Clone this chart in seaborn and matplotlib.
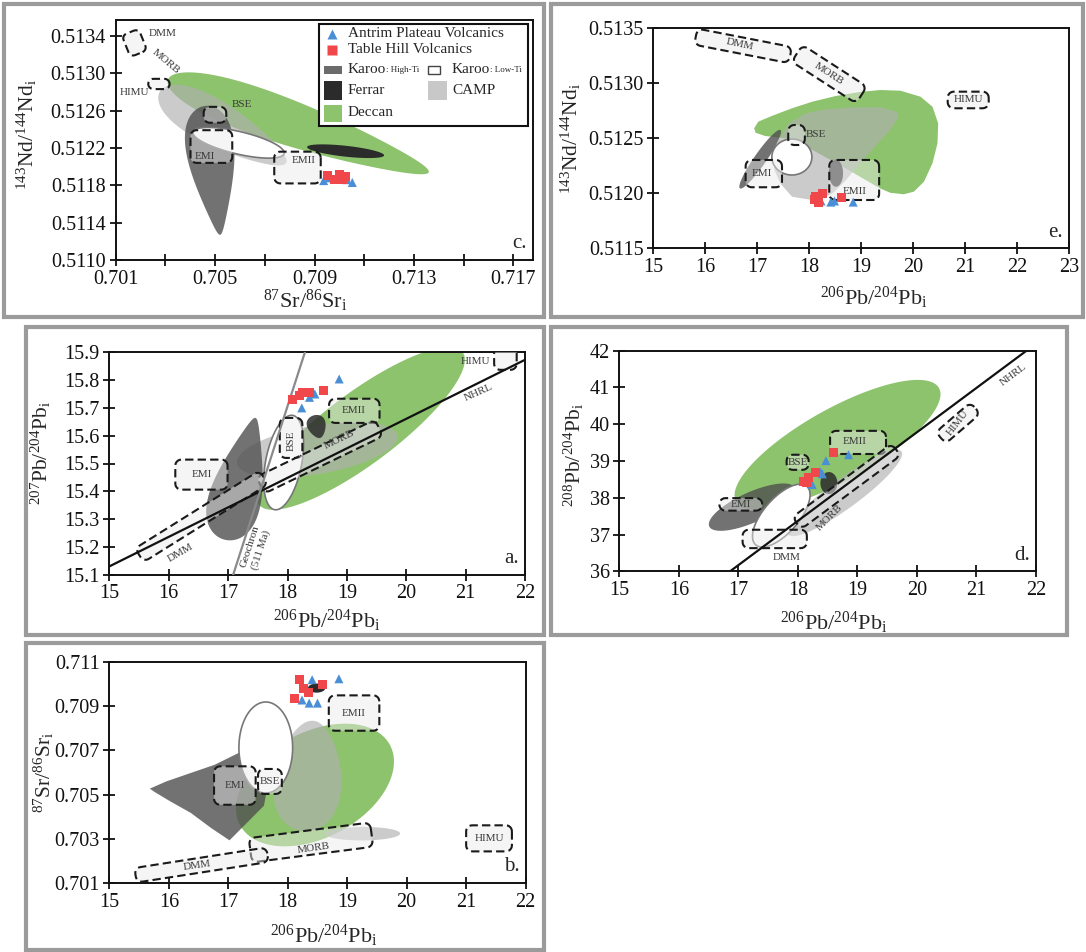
import numpy as np
import pandas as pd
import seaborn as sns
import matplotlib.pyplot as plt
from matplotlib.patches import Polygon, Rectangle

sns.set_style('ticks')
plt.rcParams['font.family'] = ['Liberation Serif', 'DejaVu Serif']
plt.rcParams['mathtext.fontset'] = 'custom'
plt.rcParams['mathtext.rm'] = 'Liberation Serif'
plt.rcParams['mathtext.it'] = 'Liberation Serif:italic'
plt.rcParams['mathtext.bf'] = 'Liberation Serif:bold'

APV = 'Antrim Plateau Volcanics'
THV = 'Table Hill Volcanics'

# ---------------- sample data ----------------
# c. 87Sr/86Sr vs 143Nd/144Nd
c_apv_sr = [0.70937, 0.70960, 0.71030, 0.71052]
c_apv_nd = [0.51185, 0.51188, 0.51186, 0.51183]
c_thv_sr = [0.70951, 0.70980, 0.70999, 0.71014, 0.71023]
c_thv_nd = [0.51190, 0.51186, 0.51192, 0.51186, 0.51189]
# e. 206Pb/204Pb vs 143Nd/144Nd
e_apv_pb = [18.23, 18.42, 18.49, 18.85]
e_apv_nd = [0.51193, 0.51192, 0.51193, 0.51192]
e_thv_pb = [18.10, 18.13, 18.19, 18.26, 18.62]
e_thv_nd = [0.51194, 0.51197, 0.51192, 0.51200, 0.51196]
# a. 206Pb/204Pb vs 207Pb/204Pb
a_apv_pb = [18.24, 18.37, 18.46, 18.87]
a_apv_207 = [15.700, 15.738, 15.750, 15.804]
a_thv_pb = [18.09, 18.21, 18.26, 18.37, 18.60]
a_thv_207 = [15.730, 15.745, 15.757, 15.754, 15.762]
# d. 206Pb/204Pb vs 208Pb/204Pb
d_apv_pb = [18.24, 18.38, 18.41, 18.47, 18.85]
d_apv_208 = [38.36, 38.70, 38.65, 39.01, 39.17]
d_thv_pb = [18.10, 18.15, 18.18, 18.29, 18.60]
d_thv_208 = [38.45, 38.41, 38.56, 38.70, 39.24]
# b. 206Pb/204Pb vs 87Sr/86Sr
b_apv_pb = [18.24, 18.36, 18.41, 18.50, 18.86]
b_apv_sr = [0.70928, 0.70914, 0.71020, 0.70914, 0.71024]
b_thv_pb = [18.11, 18.20, 18.27, 18.35, 18.59]
b_thv_sr = [0.70933, 0.71020, 0.70979, 0.70960, 0.70997]

# ---------------- literature fields: (end 1, end 2, width/length, taper) ----------------
c_deccan = [(0.7031, 0.51293), (0.7136, 0.51194), 0.16, 0.35]
c_camp = [(0.70277, 0.51280), (0.70786, 0.51204), 0.30, 0.3]
c_karoo_hi = [(0.7046, 0.51265), (0.7052, 0.51127), 0.33, 0.6]
c_karoo_lo = [(0.70411, 0.51237), (0.70778, 0.51214), 0.24, 0.0]
c_ferrar = [(0.7087, 0.51221), (0.7118, 0.51212), 0.14, 0.0]

e_deccan_pb = [16.944, 17.023, 17.283, 17.673, 18.065, 18.521, 18.977, 19.367, 19.758, 20.148,
               20.377, 20.487, 20.474, 20.377, 20.213, 20.019, 19.823, 19.563, 19.367, 18.650,
               18.065, 17.544, 17.154, 16.971]
e_deccan_nd = [0.512591, 0.512651, 0.512703, 0.512773, 0.512833, 0.512885, 0.512921, 0.512939,
               0.512933, 0.512878, 0.512787, 0.512636, 0.512455, 0.512273, 0.512105, 0.512015,
               0.511991, 0.512005, 0.512045, 0.512242, 0.512394, 0.512500, 0.512521, 0.512551]
e_camp_pb = [17.316, 17.413, 17.609, 17.935, 18.325, 18.846, 19.367, 19.692, 19.725, 19.563,
             19.269, 18.977, 18.715, 18.456, 18.131, 17.673, 17.446, 17.335]
e_camp_nd = [0.512333, 0.512485, 0.512636, 0.512727, 0.512764, 0.512782, 0.512782, 0.512742,
             0.512696, 0.512575, 0.512424, 0.512273, 0.512121, 0.512000, 0.511933, 0.511969,
             0.512091, 0.512212]
e_karoo_hi = [(16.67, 0.512045), (17.45, 0.512575), 0.17, 0.0]
e_karoo_lo = [(17.285, 0.51233), (18.055, 0.51233), 0.90, 0.0]
e_ferrar = [(18.52, 0.512305), (18.52, 0.51206), 0.52, 0.0]

a_deccan = [(17.52, 15.352), (20.95, 15.90), 0.28, 0.0]
a_camp = [(17.15, 15.50), (19.85, 15.60), 0.30, 0.0]
a_karoo_hi = [(16.94, 15.226), (17.46, 15.664), 0.37, 0.6]
a_karoo_lo = [(17.78, 15.334), (18.09, 15.673), 0.375, 0.0]
a_ferrar = [(18.44, 15.673), (18.55, 15.592), 0.77, 0.3]

d_deccan = [(16.96, 37.90), (20.37, 40.985), 0.31, 0.0]
d_camp = [(17.84, 37.00), (19.74, 39.26), 0.21, 0.0]
d_karoo_hi = [(16.51, 37.22), (17.95, 38.27), 0.32, 0.0]
d_karoo_lo = [(17.29, 36.72), (18.15, 38.31), 0.45, 0.0]
d_ferrar = [(18.52, 38.70), (18.52, 38.10), 0.77, 0.0]

b_deccan = [(17.196, 0.703624), (19.719, 0.707244), 0.62, 0.0]
b_camp = [(18.43, 0.70834), (18.26, 0.70334), 0.60, -0.2]
b_camp2 = [(18.63, 0.70322), (19.89, 0.70324), 0.18, 0.0]
b_karoo_lo = [(17.63, 0.70919), (17.63, 0.70507), 0.59, 0.0]
b_ferrar = [(18.34, 0.70982), (18.63, 0.70982), 0.53, 0.0]
b_karoo_hi_pb = [15.68, 15.96, 16.37, 16.77, 17.17, 17.51, 17.70, 17.60, 17.02, 16.71, 16.37, 16.02, 15.76]
b_karoo_hi_sr = [0.70527, 0.70560, 0.70598, 0.70635, 0.70688, 0.70719, 0.70600, 0.70450,
                 0.70293, 0.70349, 0.70417, 0.70470, 0.70512]

# ---------------- mantle reservoirs ----------------
# axis-aligned boxes (x0, x1, y0, y1)
c_himu = (0.70231, 0.70317, 0.51283, 0.51294)
c_bse = (0.70454, 0.70545, 0.51247, 0.51264)
c_emi = (0.70401, 0.70569, 0.51204, 0.51239)
c_emii = (0.70738, 0.70925, 0.51182, 0.51216)
e_himu = (20.67, 21.46, 0.512773, 0.512924)
e_bse = (17.60, 17.92, 0.512439, 0.512621)
e_emi = (16.78, 17.48, 0.512055, 0.512303)
e_emii = (18.39, 19.35, 0.511939, 0.512303)
a_emi = (16.11, 16.99, 15.406, 15.514)
a_emii = (18.70, 19.55, 15.646, 15.733)
a_bse = (17.87, 18.25, 15.520, 15.664)
a_himu = (21.48, 21.86, 15.837, 15.930)
d_emii = (18.54, 19.48, 39.19, 39.82)
d_bse = (17.81, 18.18, 38.76, 39.17)
d_emi = (16.68, 17.40, 37.65, 37.99)
d_dmm = (17.07, 18.15, 36.63, 37.13)
b_emii = (18.69, 19.54, 0.70789, 0.70949)
b_emi = (16.76, 17.46, 0.70454, 0.70628)
b_bse = (17.50, 17.90, 0.70503, 0.70616)
b_himu = (21.00, 21.77, 0.70243, 0.70361)
# tilted boxes (end 1, end 2, thickness/length)
c_dmm = [(0.70158, 0.51344), (0.70193, 0.51321), 0.78]
e_dmm = [(15.82, 0.513424), (17.64, 0.513257), 0.17]
e_morb = [(17.77, 0.513273), (19.01, 0.512894), 0.26]
a_morb = [(17.545, 15.422), (19.54, 15.628), 0.14]
a_dmm = [(15.505, 15.170), (17.60, 15.450), 0.11]
d_morb = [(17.98, 37.31), (19.65, 39.31), 0.12]
d_himu = [(20.40, 39.63), (20.98, 40.44), 0.33]
b_morb = [(17.37, 0.70248), (19.41, 0.70319), 0.20]
b_dmm = [(15.44, 0.70135), (17.66, 0.70228), 0.11]

# reference lines
a_nhrl_x = [15.0, 22.0]
a_nhrl_y = [15.130, 15.873]
a_geo_x = [17.085, 18.293]
a_geo_y = [15.10, 15.90]
d_nhrl_x = [16.86, 21.84]
d_nhrl_y = [36.0, 42.0]

GREEN = '#8dc36d'
HI = '#4f4f4f'
FER = '#2b2b2b'
CAMPC = '#b0b0b0'
BLUE = '#4a8fd6'
RED = '#f0474a'

W, H = 1086, 952
fig = plt.figure(figsize=(W / 100, H / 100), dpi=100)


def add_axes(l, r, t, b, xlim, ylim):
    ax = fig.add_axes([l / W, 1 - b / H, (r - l) / W, (b - t) / H])
    ax.set_xlim(xlim)
    ax.set_ylim(ylim)
    ax.set_autoscale_on(False)
    return ax


def frame(ax, p0, p1):
    a, b = ax.transData.transform([p0, p1])
    d = b - a
    L = np.hypot(*d)
    u = d / L
    return a, u, np.array([-u[1], u[0]]), L


def field(ax, shape, color, z, alpha=1.0, ec='none', lw=0):
    p0, p1, ratio, skew = shape
    a, u, n, L = frame(ax, p0, p1)
    t = np.linspace(0, 2 * np.pi, 160)
    s = (1 - np.cos(t)) / 2 * L
    h = ratio * L / 2 * np.sin(t) * (1 + skew * np.cos(t))
    xy = ax.transData.inverted().transform(a + np.outer(s, u) + np.outer(h, n))
    ax.add_patch(Polygon(xy, closed=True, fc=color, ec=ec, lw=lw, alpha=alpha, zorder=z))


def rrect(a, u, n, L, h, r=6):
    r = min(r, h / 2, L / 2)
    pts = []
    for cx, cy, st in [(L - r, h / 2 - r, 0), (r, h / 2 - r, 90), (r, -h / 2 + r, 180), (L - r, -h / 2 + r, 270)]:
        q = np.radians(np.linspace(st, st + 90, 7))
        pts.append(np.c_[cx + r * np.cos(q), cy + r * np.sin(q)])
    pts = np.vstack(pts)
    return a + np.outer(pts[:, 0], u) + np.outer(pts[:, 1], n)


def dashed(ax, pts):
    xy = ax.transData.inverted().transform(pts)
    ax.add_patch(Polygon(xy, closed=True, fc=(0.92, 0.92, 0.92, 0.45), ec='#1a1a1a', lw=1.5,
                         ls=(0, (4, 2)), zorder=6))


def abox(ax, box, r=6):
    x0, x1, y0, y1 = box
    ym = (y0 + y1) / 2
    a, u, n, L = frame(ax, (x0, ym), (x1, ym))
    py = ax.transData.transform([(x0, y0), (x0, y1)])[:, 1]
    dashed(ax, rrect(a, u, n, L, abs(py[1] - py[0]), r))


def tbox(ax, box, r=6):
    p0, p1, ratio = box
    a, u, n, L = frame(ax, p0, p1)
    dashed(ax, rrect(a, u, n, L, ratio * L, r))


def lab(ax, s, x, y, rot=0, size=8):
    ax.text(x, y, s, ha='center', va='center', rotation=rot, rotation_mode='anchor',
            fontsize=size, color='#3a3a3a', zorder=8)


def samples(ax, apv_x, apv_y, thv_x, thv_y):
    df = pd.DataFrame({'x': list(apv_x) + list(thv_x), 'y': list(apv_y) + list(thv_y),
                       'suite': [APV] * len(apv_x) + [THV] * len(thv_x)})
    sns.scatterplot(data=df, x='x', y='y', hue='suite', style='suite',
                    palette={APV: BLUE, THV: RED}, markers={APV: '^', THV: 's'},
                    s=42, edgecolor='none', legend=False, ax=ax, zorder=9)


def style(ax, xlim, ylim, xt, xl, yt, yl, xlab, ylab, tag, xpos, ypos):
    ax.set_xlim(xlim)
    ax.set_ylim(ylim)
    ax.set_xticks(xt, xl)
    ax.set_yticks(yt, yl)
    ax.tick_params(direction='inout', length=9, width=1.3, labelsize=14.5, pad=2.5, colors='#111111')
    for sp in ax.spines.values():
        sp.set_linewidth(1.4)
        sp.set_color('#111111')
    ax.set_xlabel(xlab, fontsize=16)
    ax.set_ylabel(ylab, fontsize=15.5)
    ax.xaxis.set_label_coords(*xpos)
    ax.yaxis.set_label_coords(*ypos)
    ax.text(0.985, 0.03, tag, transform=ax.transAxes, ha='right', va='bottom', fontsize=15)


PB6 = r'$^{206}$Pb/$^{204}$Pb$_{\rm i}$'

# ---------------- panel frames ----------------
for x0, x1, y0, y1 in [(4, 544, 4, 317), (551, 1083, 4, 317), (26, 544, 327, 635),
                       (551, 1067, 327, 635), (26, 544, 643, 950)]:
    fig.add_artist(Rectangle((x0 / W, 1 - y1 / H), (x1 - x0) / W, (y1 - y0) / H,
                             transform=fig.transFigure, fill=False, ec='#9b9b9b', lw=3))

# ---------------- c ----------------
xl, yl = (0.701, 0.7178), (0.5110, 0.51357)
ax = add_axes(115.7, 533.2, 20, 260, xl, yl)
field(ax, c_deccan, GREEN, 1)
field(ax, c_camp, CAMPC, 2, alpha=0.65)
field(ax, c_karoo_hi, HI, 3, alpha=0.8)
field(ax, c_karoo_lo, 'white', 4, ec='#777777', lw=1.2)
field(ax, c_ferrar, FER, 5)
for bx in [c_himu, c_bse, c_emi, c_emii]:
    abox(ax, bx)
tbox(ax, c_dmm, 5)
ax.text(0.70231, 0.51343, 'DMM', ha='left', va='center', fontsize=8, color='#3a3a3a')
lab(ax, 'MORB', 0.70303, 0.51312, -40)
lab(ax, 'HIMU', 0.70174, 0.51279)
lab(ax, 'BSE', 0.70606, 0.51266)
lab(ax, 'EMI', 0.70457, 0.51211)
lab(ax, 'EMII', 0.70858, 0.51207)
samples(ax, c_apv_sr, c_apv_nd, c_thv_sr, c_thv_nd)
style(ax, xl, yl, [0.701, 0.703, 0.705, 0.707, 0.709, 0.711, 0.713, 0.715, 0.717],
      ['0.701', '', '0.705', '', '0.709', '', '0.713', '', '0.717'],
      [0.5110, 0.5114, 0.5118, 0.5122, 0.5126, 0.5130, 0.5134],
      ['0.5110', '0.5114', '0.5118', '0.5122', '0.5126', '0.5130', '0.5134'],
      r'$^{87}$Sr/$^{86}$Sr$_{\rm i}$', r'$^{143}$Nd/$^{144}$Nd$_{\rm i}$', 'c.',
      (0.453, -0.115), (-0.184, 0.525))

# legend
T = ax.transAxes
ax.add_patch(Rectangle((0.4877, 0.5563), 0.4996, 0.427, transform=T, fill=True, fc='white',
                       ec='#111111', lw=1.5, zorder=20))
ax.plot([0.5181], [0.9417], '^', color=BLUE, ms=7, mec='none', transform=T, zorder=21)
ax.plot([0.5181], [0.875], 's', color=RED, ms=7, mec='none', transform=T, zorder=21)
for x0, y0, w, h, fc, ec in [(0.4989, 0.775, 0.0431, 0.0333, '#6b6b6b', 'none'),
                             (0.748, 0.775, 0.0288, 0.0333, 'white', '#444444'),
                             (0.4989, 0.6667, 0.0431, 0.0791, FER, 'none'),
                             (0.748, 0.6667, 0.0457, 0.0791, '#c8c8c8', 'none'),
                             (0.4989, 0.575, 0.0431, 0.0708, GREEN, 'none')]:
    ax.add_patch(Rectangle((x0, y0), w, h, transform=T, fc=fc, ec=ec, lw=1, zorder=21))
kw = dict(transform=T, fontsize=11, va='center', ha='left', zorder=22)
ax.text(0.5562, 0.9417, APV, **kw)
ax.text(0.5562, 0.875, THV, **kw)
k1 = ax.text(0.5562, 0.7917, 'Karoo', **kw)
k2 = ax.text(0.8055, 0.7917, 'Karoo', **kw)
ax.annotate(': High-Ti', xy=(1, 0.18), xycoords=k1, fontsize=6.5, va='bottom', ha='left', zorder=22)
ax.annotate(': Low-Ti', xy=(1, 0.18), xycoords=k2, fontsize=6.5, va='bottom', ha='left', zorder=22)
ax.text(0.5562, 0.7042, 'Ferrar', **kw)
ax.text(0.8055, 0.7042, 'CAMP', **kw)
ax.text(0.5562, 0.6125, 'Deccan', **kw)

# ---------------- e ----------------
xl, yl = (15, 23), (0.5115, 0.5135)
ax = add_axes(653.2, 1068.7, 28.3, 248.3, xl, yl)
ax.fill(e_deccan_pb, e_deccan_nd, color=GREEN, lw=0, zorder=1)
ax.fill(e_camp_pb, e_camp_nd, color=CAMPC, alpha=0.65, lw=0, zorder=2)
field(ax, e_karoo_hi, HI, 3, alpha=0.8)
field(ax, e_karoo_lo, 'white', 4, ec='#777777', lw=1.2)
field(ax, e_ferrar, FER, 5, alpha=0.85)
for bx in [e_himu, e_bse, e_emi, e_emii]:
    abox(ax, bx)
tbox(ax, e_dmm)
tbox(ax, e_morb)
lab(ax, 'DMM', 16.67, 0.51335, -12)
lab(ax, 'MORB', 18.39, 0.51309, -33)
lab(ax, 'HIMU', 21.065, 0.51285)
lab(ax, 'BSE', 18.14, 0.51253)
lab(ax, 'EMI', 17.10, 0.51218)
lab(ax, 'EMII', 18.88, 0.512015)
samples(ax, e_apv_pb, e_apv_nd, e_thv_pb, e_thv_nd)
style(ax, xl, yl, list(range(15, 24)), [str(v) for v in range(15, 24)],
      [0.5115, 0.5120, 0.5125, 0.5130, 0.5135], ['0.5115', '0.5120', '0.5125', '0.5130', '0.5135'],
      PB6, r'$^{143}$Nd/$^{144}$Nd$_{\rm i}$', 'e.', (0.531, -0.167), (-0.168, 0.5))

# ---------------- a ----------------
xl, yl = (15, 22), (15.1, 15.9)
ax = add_axes(109.4, 525, 352.3, 574.7, xl, yl)
field(ax, a_deccan, GREEN, 1)
field(ax, a_camp, CAMPC, 2, alpha=0.65)
field(ax, a_karoo_hi, HI, 3, alpha=0.8)
field(ax, a_karoo_lo, 'white', 4, ec='#777777', lw=1.2)
field(ax, a_ferrar, FER, 5, alpha=0.85)
for bx in [a_emi, a_emii, a_bse, a_himu]:
    abox(ax, bx)
tbox(ax, a_morb)
tbox(ax, a_dmm)
ax.plot(a_nhrl_x, a_nhrl_y, color='#111111', lw=1.6, zorder=7)
ax.plot(a_geo_x, a_geo_y, color='#8a8a8a', lw=1.6, zorder=7)
lab(ax, 'EMI', 16.55, 15.46)
lab(ax, 'EMII', 19.12, 15.69)
lab(ax, 'BSE', 18.06, 15.58, 90)
lab(ax, 'MORB', 18.87, 15.586, 26)
lab(ax, 'DMM', 16.20, 15.178, 30)
lab(ax, 'HIMU', 21.17, 15.868)
lab(ax, 'NHRL', 21.22, 15.754, 24)
lab(ax, 'Geochron\n(511 Ma)', 17.46, 15.196, 72)
samples(ax, a_apv_pb, a_apv_207, a_thv_pb, a_thv_207)
style(ax, xl, yl, list(range(15, 23)), [str(v) for v in range(15, 23)],
      [15.1, 15.2, 15.3, 15.4, 15.5, 15.6, 15.7, 15.8, 15.9],
      ['15.1', '15.2', '15.3', '15.4', '15.5', '15.6', '15.7', '15.8', '15.9'],
      PB6, r'$^{207}$Pb/$^{204}$Pb$_{\rm i}$', 'a.', (0.524, -0.150), (-0.135, 0.547))

# ---------------- d ----------------
xl, yl = (15, 22), (36, 42)
ax = add_axes(619.4, 1036, 350.7, 571.3, xl, yl)
field(ax, d_deccan, GREEN, 1)
field(ax, d_camp, CAMPC, 2, alpha=0.65)
field(ax, d_karoo_hi, HI, 3, alpha=0.8)
field(ax, d_karoo_lo, 'white', 4, ec='#777777', lw=1.2)
field(ax, d_ferrar, FER, 5, alpha=0.85)
for bx in [d_emii, d_bse, d_emi, d_dmm]:
    abox(ax, bx)
tbox(ax, d_morb)
tbox(ax, d_himu)
ax.plot(d_nhrl_x, d_nhrl_y, color='#111111', lw=1.6, zorder=7)
lab(ax, 'EMII', 18.95, 39.54)
lab(ax, 'BSE', 17.995, 38.965)
lab(ax, 'EMI', 17.04, 37.82)
lab(ax, 'DMM', 17.81, 36.38)
lab(ax, 'MORB', 18.53, 37.45, 45)
lab(ax, 'HIMU', 20.69, 40.03, 52)
lab(ax, 'NHRL', 21.62, 41.35, 37)
samples(ax, d_apv_pb, d_apv_208, d_thv_pb, d_thv_208)
style(ax, xl, yl, list(range(15, 23)), [str(v) for v in range(15, 23)],
      list(range(36, 43)), [str(v) for v in range(36, 43)],
      PB6, r'$^{208}$Pb/$^{204}$Pb$_{\rm i}$', 'd.', (0.515, -0.175), (-0.080, 0.527))

# ---------------- b ----------------
xl, yl = (15, 22), (0.701, 0.711)
ax = add_axes(109.4, 525.6, 662, 883, xl, yl)
field(ax, b_deccan, GREEN, 1)
field(ax, b_camp, CAMPC, 2, alpha=0.65)
field(ax, b_camp2, CAMPC, 2, alpha=0.65)
ax.fill(b_karoo_hi_pb, b_karoo_hi_sr, color=HI, alpha=0.8, lw=0, zorder=3)
field(ax, b_karoo_lo, 'white', 4, ec='#777777', lw=1.2)
field(ax, b_ferrar, FER, 5)
for bx in [b_emii, b_emi, b_bse, b_himu]:
    abox(ax, bx)
tbox(ax, b_morb)
tbox(ax, b_dmm)
lab(ax, 'EMII', 19.11, 0.70869)
lab(ax, 'EMI', 17.11, 0.70541)
lab(ax, 'BSE', 17.70, 0.70560)
lab(ax, 'MORB', 18.43, 0.70258, 8)
lab(ax, 'DMM', 16.48, 0.70178, 8)
lab(ax, 'HIMU', 21.385, 0.70302)
samples(ax, b_apv_pb, b_apv_sr, b_thv_pb, b_thv_sr)
style(ax, xl, yl, list(range(15, 23)), [str(v) for v in range(15, 23)],
      [0.701, 0.703, 0.705, 0.707, 0.709, 0.711],
      ['0.701', '0.703', '0.705', '0.707', '0.709', '0.711'],
      PB6, r'$^{87}$Sr/$^{86}$Sr$_{\rm i}$', 'b.', (0.516, -0.181), (-0.128, 0.5))

fig.savefig('out.png', dpi=100)
